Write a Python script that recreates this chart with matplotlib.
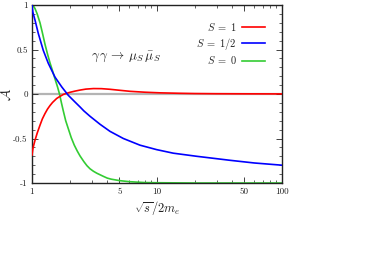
import numpy as np
import matplotlib
matplotlib.use('Agg')
from matplotlib import pyplot as plt
from matplotlib.ticker import FixedLocator, NullFormatter

plt.rcParams['font.family'] = 'cmr10'
plt.rcParams['mathtext.fontset'] = 'cm'
plt.rcParams['axes.unicode_minus'] = False
plt.rcParams['axes.formatter.use_mathtext'] = True

# values (x = sqrt(s)/2m_e, y = asymmetry)
s_spin1 = [1.0, 1.015, 1.03, 1.057, 1.1, 1.159, 1.21, 1.27, 1.33, 1.393, 1.46, 1.576, 1.66, 1.78, 2.0,
           2.2, 2.42, 2.7, 3.1, 3.6, 4.2, 5.0, 6.1, 8.0, 10.6, 15, 20, 30, 50, 100]
a_spin1 = [-0.685, -0.62, -0.58, -0.52, -0.44, -0.35, -0.28, -0.22, -0.17, -0.13, -0.095, -0.05, -0.03,
           -0.005, 0.018, 0.032, 0.044, 0.055, 0.061, 0.06, 0.053, 0.042, 0.03, 0.02, 0.013, 0.008,
           0.005, 0.003, 0.002, 0.001]

s_spinhalf = [1.0, 1.015, 1.057, 1.123, 1.231, 1.35, 1.527, 1.729, 1.952, 2.208, 2.42, 2.6, 2.91, 3.5,
              4.21, 5.38, 7.31, 9.93, 13.5, 20.8, 38.4, 60, 100]
a_spinhalf = [1.0, 0.92, 0.83, 0.68, 0.49, 0.345, 0.19, 0.08, -0.015, -0.09, -0.145, -0.19, -0.25, -0.34,
              -0.42, -0.50, -0.575, -0.625, -0.665, -0.70, -0.745, -0.775, -0.80]

s_spin0 = [1.0, 1.03, 1.057, 1.1, 1.159, 1.21, 1.27, 1.33, 1.393, 1.46, 1.527, 1.6, 1.66, 1.72, 1.78, 1.86,
           1.952, 2.06, 2.18, 2.3, 2.42, 2.6, 2.75, 2.91, 3.1, 3.3, 3.72, 4.0, 4.3, 5.06, 6.0, 6.88, 8.0,
           10, 20, 50, 100]
a_spin0 = [1.0, 0.985, 0.96, 0.9, 0.8, 0.69, 0.56, 0.45, 0.35, 0.26, 0.17, 0.08, 0.0, -0.1, -0.19, -0.30,
           -0.39, -0.49, -0.575, -0.64, -0.695, -0.76, -0.805, -0.84, -0.868, -0.89, -0.925, -0.945,
           -0.957, -0.974, -0.985, -0.99, -0.995, -0.997, -1.0, -1.0, -1.0]

xticks = [1, 5, 10, 50, 100]
xticklabels = ['1', '5', '10', '50', '100']
yticks = [-1, -0.5, 0, 0.5, 1]
yticklabels = ['-1', '-0.5', '0', '0.5', '1']

fig = plt.figure(figsize=(3.89, 2.62), dpi=100)
ax = fig.add_axes([32/389., 1 - 183/262., 250/389., 178/262.])

ax.axhline(0, color='#b4b4b4', lw=1.6, zorder=1)
ax.plot(s_spin1, a_spin1, color='#ff0000', lw=1.2, label=r'$S\;=\;1$', zorder=3)
ax.plot(s_spinhalf, a_spinhalf, color='#0000ff', lw=1.2, label=r'$S\;=\;1/2$', zorder=3)
ax.plot(s_spin0, a_spin0, color='#33cc33', lw=1.2, label=r'$S\;=\;0$', zorder=2)

ax.set_xscale('log')
ax.set_xlim(1, 100)
ax.set_ylim(-1, 1)

ax.xaxis.set_major_locator(FixedLocator(xticks))
ax.set_xticklabels(xticklabels)
minors = [v * d for d in (1, 10) for v in range(2, 10) if v != 5]
ax.xaxis.set_minor_locator(FixedLocator(minors))
ax.xaxis.set_minor_formatter(NullFormatter())
ax.yaxis.set_major_locator(FixedLocator(yticks))
ax.set_yticklabels(yticklabels)
ax.yaxis.set_minor_locator(FixedLocator(np.arange(-1, 1.01, 0.1)))

ax.tick_params(which='both', direction='in', top=True, right=True, labelsize=6.5, colors='#222222', pad=3)
ax.tick_params(which='major', length=4, width=0.6)
ax.tick_params(which='minor', length=2, width=0.5)
for sp in ax.spines.values():
    sp.set_linewidth(1.0)
    sp.set_color('#222222')

ax.set_xlabel(r'$\sqrt{s}/2m_e$', fontsize=9, color='#222222')
ax.xaxis.set_label_coords(0.5, -0.09)
ax.set_ylabel(r'$\mathcal{A}$', fontsize=10, color='#222222', rotation=90, va='center')
ax.yaxis.set_label_coords(-0.098, 0.5)

ax.text(0.376, 0.708, r'$\gamma\,\gamma\,\rightarrow\,\mu_S\,\bar{\mu}_S$', transform=ax.transAxes,
        ha='center', va='center', fontsize=9.5, color='#222222')

leg = ax.legend(loc='upper right', bbox_to_anchor=(0.932, 0.91), frameon=False, markerfirst=False,
                fontsize=7.5, labelspacing=0.25, handlelength=2.2, handletextpad=0.5,
                borderpad=0, borderaxespad=0)
for t in leg.get_texts():
    t.set_color('#222222')

fig.savefig('out.png', dpi=100)
